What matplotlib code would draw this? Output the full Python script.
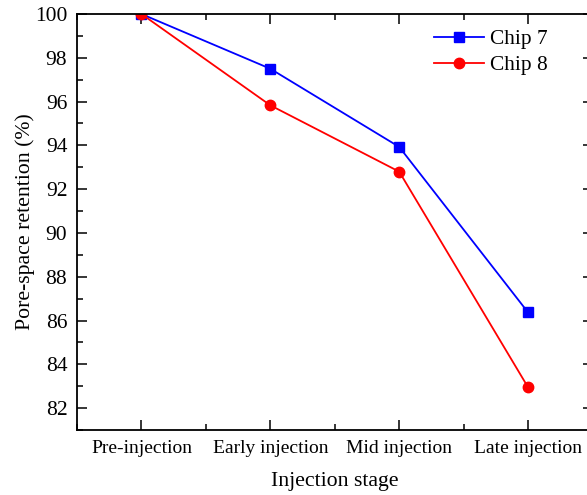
import matplotlib.pyplot as plt
from matplotlib.ticker import MultipleLocator

plt.rcParams['font.family'] = ['Liberation Serif', 'DejaVu Serif']

stages = ["Pre-injection", "Early injection", "Mid injection", "Late injection"]
chip7 = [100.0, 97.5, 93.93, 86.37]
chip8 = [100.0, 95.83, 92.8, 82.95]

fig = plt.figure(figsize=(5.87, 4.95), dpi=100)
ax = fig.add_axes([0.1312, 0.1313, 0.8782, 0.8404])

x = range(len(stages))
ax.plot(x, chip7, color="#0000ff", marker="s", markersize=7, linewidth=1.3, label="Chip 7")
ax.plot(x, chip8, color="#ff0000", marker="o", markersize=7.5, linewidth=1.3, label="Chip 8")

ax.set_xlim(-0.5, 3.5)
ax.set_ylim(81, 100)
ax.set_xticks(list(x))
ax.set_xticklabels(stages)
ax.xaxis.set_minor_locator(MultipleLocator(0.5))
ax.yaxis.set_major_locator(MultipleLocator(2))
ax.yaxis.set_minor_locator(MultipleLocator(1))

ax.tick_params(which="both", direction="in", top=True, right=True, width=1.1)
ax.tick_params(which="major", length=7, pad=7)
ax.tick_params(which="minor", length=4)
ax.tick_params(axis="y", labelsize=15.5)
ax.tick_params(axis="x", labelsize=14)
for s in ax.spines.values():
    s.set_linewidth(1.3)

ax.set_xlabel("Injection stage", fontsize=15.7, labelpad=11)
ax.set_ylabel("Pore-space retention (%)", fontsize=15.7, labelpad=0)

ax.legend(loc="upper left", bbox_to_anchor=(0.656, 1.01), frameon=False, fontsize=15.4,
          handlelength=2.3, handletextpad=0.3, labelspacing=0.3)

fig.savefig("out.png", dpi=100)
